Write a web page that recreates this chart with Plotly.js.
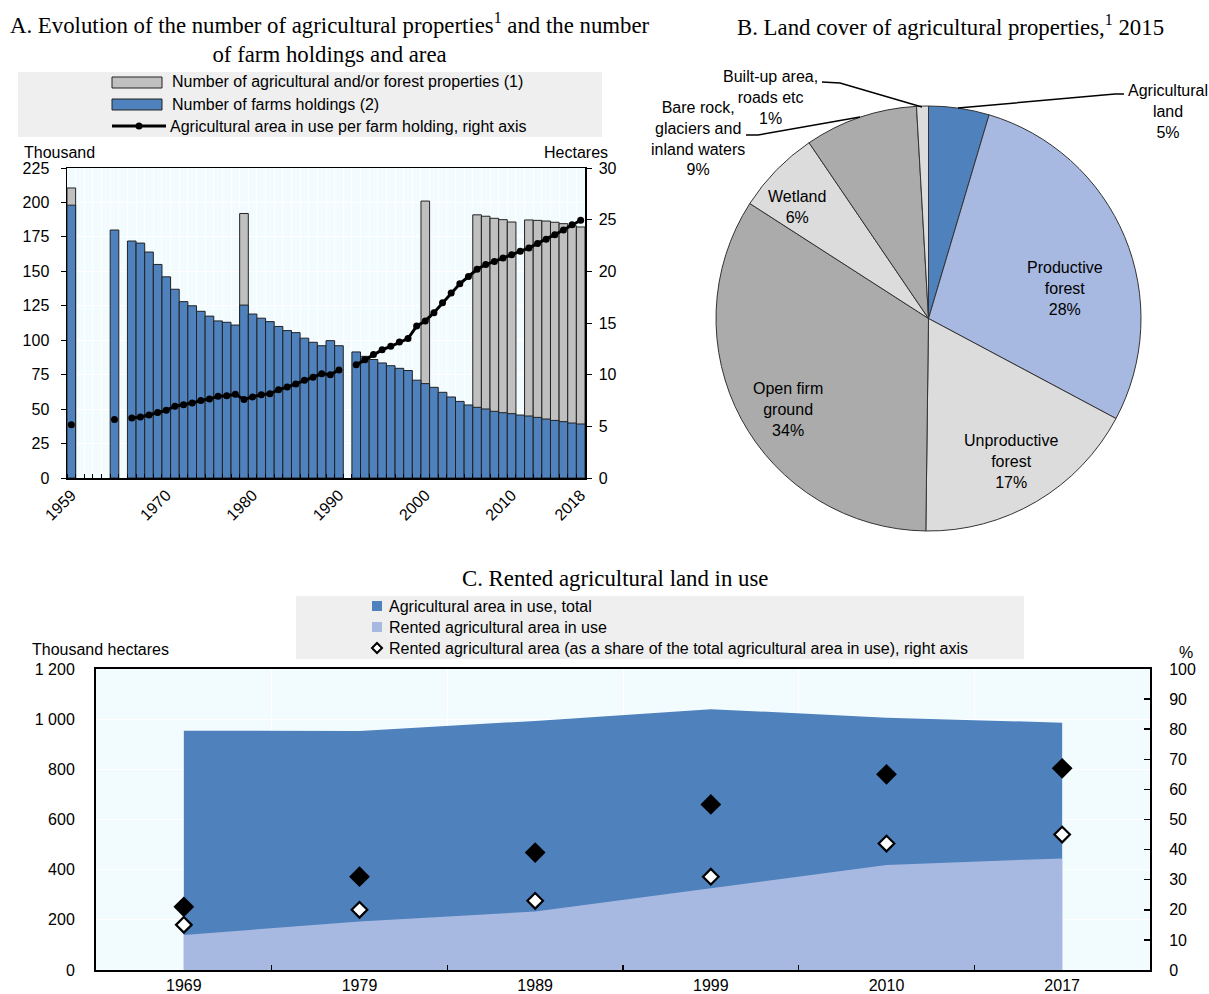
<!DOCTYPE html>
<html>
<head>
<meta charset="utf-8">
<script src="https://cdn.plot.ly/plotly-3.0.1.min.js"></script>
<style>
html,body{margin:0;padding:0;background:#fff;}
#chart{width:1209px;height:994px;}
</style>
</head>
<body>
<div id="chart"></div>
<script>
// ---------- Panel A data ----------
const yearsA = [1959,1960,1961,1962,1963,1964,1965,1966,1967,1968,1969,1970,1971,1972,1973,1974,1975,1976,1977,1978,1979,1980,1981,1982,1983,1984,1985,1986,1987,1988,1989,1990,1991,1992,1993,1994,1995,1996,1997,1998,1999,2000,2001,2002,2003,2004,2005,2006,2007,2008,2009,2010,2011,2012,2013,2014,2015,2016,2017,2018];
const farmHoldings = [198,null,null,null,null,180,null,172,170.5,164,155,146,137,128,125,121,117.5,114,113,111,125.5,119,116,113.5,110,107,105.5,101.5,98.5,96,99.7,96,null,91.5,88.3,86,83.5,81.5,79.6,78,71,68.5,65.8,62.2,58.8,55.6,53,51.3,50.1,48.4,47.4,46.7,45.7,45,44,42.8,41.8,40.9,39.9,39.2];
const properties = [210.5,null,null,null,null,null,null,null,null,null,null,null,null,null,null,null,null,null,null,null,192,null,null,null,null,null,null,null,null,null,null,null,null,null,null,null,null,null,null,null,null,201,null,null,null,null,null,191,190,188.5,187.5,185.8,null,187.3,187,186.5,185.6,184.6,183.1,182.2];
const areaPerHolding = [5.15,null,null,null,null,5.65,null,5.8,5.9,6.1,6.35,6.55,6.95,7.1,7.25,7.5,7.65,7.9,7.95,8.1,7.6,7.85,8.05,8.15,8.55,8.8,9.1,9.45,9.75,10.1,10.0,10.45,null,10.95,11.45,11.95,12.4,12.75,13.15,13.5,14.7,15.2,16.0,16.95,17.9,18.8,19.5,20.2,20.65,20.95,21.3,21.6,21.95,22.25,22.7,23.1,23.55,24.0,24.5,24.95];
const tickYearsA = [1959,1970,1980,1990,2000,2010,2018];

// ---------- Panel B data ----------
const coverLabels = ["Agricultural land","Productive forest","Unproductive forest","Open firm ground","Wetland","Bare rock, glaciers and inland waters","Built-up area, roads etc"];
const coverShares = [4.6,28.2,17.4,33.9,6.4,8.6,0.9];
const coverText = ["Agricultural<br>land<br>5%","Productive<br>forest<br>28%","Unproductive<br>forest<br>17%","Open firm<br>ground<br>34%","Wetland<br>6%","Bare rock,<br>glaciers and<br>inland waters<br>9%","Built-up area,<br>roads etc<br>1%"];

// ---------- Panel C data ----------
const yearsC = ["1969","1979","1989","1999","2010","2017"];
const totalArea = [954,953,993,1040,1006,986];
const rentedArea = [140,193,233,326,419,445];
const rentedShare = [15,20,23,31,42,45];
const otherShare = [21,31,39,55,65,67];

// ---------- helpers ----------
const W = 1209, H = 994;
const px = x => x / W;
const py = y => 1 - y / H;
const NARROW = '"Liberation Sans Narrow", "Arial Narrow", "Liberation Sans", Arial, sans-serif';
const SERIF = '"Liberation Serif", "Times New Roman", serif';
const BLUE = '#4f81bd', LIGHTBLUE = '#a7b8e1', GREY = '#c0c0c0', PIEGREY = '#ababab', PIELIGHT = '#dcdcdc';
const BG = '#f2fcff';

const traces = [
  // Panel A
  {type:'bar', x:yearsA, y:properties, xaxis:'x', yaxis:'y', name:'Number of agricultural and/or forest properties (1)',
   marker:{color:GREY, line:{color:'#222', width:1}}, showlegend:false, hoverinfo:'x+y'},
  {type:'bar', x:yearsA, y:farmHoldings, xaxis:'x', yaxis:'y', name:'Number of farms holdings (2)',
   marker:{color:BLUE, line:{color:'#222', width:1}}, showlegend:false, hoverinfo:'x+y'},
  {type:'scatter', mode:'lines+markers', x:yearsA, y:areaPerHolding, xaxis:'x', yaxis:'y2', connectgaps:false,
   name:'Agricultural area in use per farm holding, right axis',
   line:{color:'#000', width:3}, marker:{color:'#000', size:7}, showlegend:false},
  // Panel B
  {type:'pie', labels:coverLabels, values:coverShares, sort:false, direction:'clockwise', rotation:0,
   marker:{colors:[BLUE,LIGHTBLUE,PIELIGHT,PIEGREY,PIELIGHT,PIEGREY,PIELIGHT], line:{color:'#333', width:1}},
   textinfo:'none', hoverinfo:'label+percent', showlegend:false, automargin:false,
   domain:{x:[px(716),px(1141)], y:[py(531),py(106)]}},
  // Panel C
  {type:'scatter', mode:'none', x:yearsC, y:totalArea, xaxis:'x3', yaxis:'y3', fill:'tozeroy', fillcolor:BLUE,
   name:'Agricultural area in use, total', showlegend:false},
  {type:'scatter', mode:'none', x:yearsC, y:rentedArea, xaxis:'x3', yaxis:'y3', fill:'tozeroy', fillcolor:LIGHTBLUE,
   name:'Rented agricultural area in use', showlegend:false},
  {type:'scatter', mode:'markers', x:yearsC, y:otherShare, xaxis:'x3', yaxis:'y4',
   marker:{symbol:'diamond', color:'#000', size:16, line:{color:'#000', width:0}}, showlegend:false, name:''},
  {type:'scatter', mode:'markers', x:yearsC, y:rentedShare, xaxis:'x3', yaxis:'y4',
   name:'Rented agricultural area (as a share of the total agricultural area in use), right axis',
   marker:{symbol:'diamond', color:'#fff', size:12, line:{color:'#000', width:2.2}}, showlegend:false}
];

const tickFont = {family:NARROW, size:16, color:'#000'};

const layout = {
  width:W, height:H, margin:{l:0,r:0,t:0,b:0}, paper_bgcolor:'#fff', plot_bgcolor:BG,
  showlegend:false, barmode:'overlay', bargap:0,
  font:{family:NARROW, size:16, color:'#000'},
  xaxis:{domain:[px(67),px(585)], anchor:'y', range:[1958.5,2018.5], type:'linear',
    tickmode:'array', tickvals:tickYearsA, ticktext:tickYearsA.map(String), ticks:'', tickangle:-45,
    tickfont:tickFont, showgrid:false, zeroline:false, showline:true, linecolor:'#000', linewidth:1.5, mirror:true,
    minor:{tick0:1958.5, dtick:1, ticks:'inside', ticklen:4, tickcolor:'#000', tickwidth:1, showgrid:true, gridcolor:'#ffffff', gridwidth:1}},
  yaxis:{domain:[py(478),py(168)], anchor:'x', range:[0,225], tickmode:'linear', tick0:0, dtick:25,
    ticks:'outside', ticklen:5, tickcolor:'#000', tickfont:tickFont, ticklabelstandoff:8,
    showgrid:true, gridcolor:'#ffffff', gridwidth:1, zeroline:false, showline:true, linecolor:'#000', linewidth:1.5, mirror:true},
  yaxis2:{overlaying:'y', side:'right', anchor:'x', range:[0,30], tickmode:'linear', tick0:0, dtick:5,
    ticks:'outside', ticklen:5, tickcolor:'#000', tickfont:tickFont, ticklabelstandoff:4,
    showgrid:false, zeroline:false, showline:true, linecolor:'#000', linewidth:1.5},
  xaxis3:{domain:[px(96),px(1150)], anchor:'y3', type:'category', range:[-0.5,5.5], tickson:'boundaries',
    ticks:'inside', ticklen:5, tickcolor:'#000', tickwidth:1.5, tickfont:tickFont, ticklabelstandoff:0,
    showgrid:true, gridcolor:'#ffffff', gridwidth:1, zeroline:false, showline:true, linecolor:'#000', linewidth:2, mirror:true},
  yaxis3:{domain:[py(970),py(669)], anchor:'x3', range:[0,1200], tickmode:'array',
    tickvals:[0,200,400,600,800,1000,1200], ticktext:['0','200','400','600','800','1 000','1 200'],
    ticks:'', tickfont:tickFont, ticklabelstandoff:16,
    showgrid:true, gridcolor:'#ffffff', gridwidth:1, zeroline:false, showline:true, linecolor:'#000', linewidth:2, mirror:true},
  yaxis4:{overlaying:'y3', side:'right', anchor:'x3', range:[0,100], tickmode:'linear', tick0:0, dtick:10,
    ticks:'inside', ticklen:6, tickcolor:'#000', tickwidth:1.5, tickfont:tickFont, ticklabelstandoff:14,
    showgrid:false, zeroline:false, showline:true, linecolor:'#000', linewidth:2},
  shapes:[], annotations:[]
};

const S = layout.shapes, A = layout.annotations;
function rect(x0,y0,x1,y1,fill,line){S.push({type:'rect',xref:'paper',yref:'paper',x0:px(x0),x1:px(x1),y0:py(y1),y1:py(y0),fillcolor:fill,line:line||{width:0},layer:'below'});}
function path(pts,color,width,fill){
  let d = pts.map((p,i)=>(i?'L':'M')+px(p[0])+','+py(p[1])).join(' ');
  if(fill) d += ' Z';
  S.push({type:'path',xref:'paper',yref:'paper',path:d,line:{color:color,width:width},fillcolor:fill||'rgba(0,0,0,0)',layer:'above'});
}
function text(t,x,y,opts){
  opts = opts||{};
  A.push({text:t,xref:'paper',yref:'paper',x:px(x),y:py(y),xanchor:opts.xa||'center',yanchor:opts.ya||'middle',
    showarrow:false,align:opts.align||'center',font:{family:opts.family||NARROW,size:opts.size||16,color:'#000'}});
}

// Titles
text('A. Evolution of the number of agricultural properties<sup>1</sup> and the number<br>of farm holdings and area',330,38,{family:SERIF,size:22.8});
text('B. Land cover of agricultural properties,<sup>1</sup> 2015',950,25,{family:SERIF,size:22.8});
text('C. Rented agricultural land in use',615,578,{family:SERIF,size:22.8});

// Panel A legend
rect(18,72,602,137,'#efefef');
S.push({type:'rect',xref:'paper',yref:'paper',x0:px(112),x1:px(162),y0:py(88),y1:py(77),fillcolor:GREY,line:{color:'#222',width:1}});
S.push({type:'rect',xref:'paper',yref:'paper',x0:px(112),x1:px(162),y0:py(110),y1:py(99),fillcolor:BLUE,line:{color:'#222',width:1}});
path([[112,126],[166,126]],'#000',3);
S.push({type:'circle',xref:'paper',yref:'paper',x0:px(135.5),x1:px(142.5),y0:py(129.5),y1:py(122.5),fillcolor:'#000',line:{width:0}});
text('Number of agricultural and/or forest properties (1)',170,82,{xa:'left'});
text('Number of farms holdings (2)',170,104,{xa:'left'});
text('Agricultural area in use per farm holding, right axis',168,126,{xa:'left'});
text('Thousand',22,152,{xa:'left'});
text('Hectares',610,152,{xa:'right'});

// Panel B labels
const pieLabelPos = [[1168,111],[1065,289],[1011,461],[788,409],[797,207],[698,139],[770,97]];
coverText.forEach((t,i)=>text(t,pieLabelPos[i][0],pieLabelPos[i][1]));
path([[958,108],[1115,94],[1124,94]],'#000',1.5);
path([[922,107],[840,83],[822,82]],'#000',1.5);
path([[860,117],[758,135],[746,135]],'#000',1.5);

// Panel C legend
rect(296,596,1024,659,'#efefef');
rect(372,601,382,611,BLUE);
rect(372,622,382,632,LIGHTBLUE);
path([[377,643],[382,648],[377,653],[372,648]],'#000',2,'#ffffff');
text('Agricultural area in use, total',387,606,{xa:'left'});
text('Rented agricultural area in use',387,627,{xa:'left'});
text('Rented agricultural area (as a share of the total agricultural area in use), right axis',387,648,{xa:'left'});
text('Thousand hectares',30,649,{xa:'left'});
text('%',1186,652);

Plotly.newPlot('chart', traces, layout, {displayModeBar:false, staticPlot:true});
</script>
</body>
</html>
